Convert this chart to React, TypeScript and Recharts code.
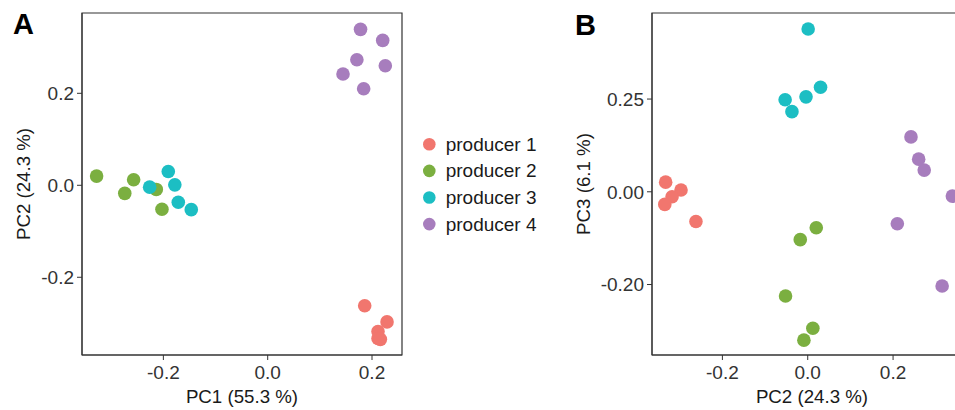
import React from 'react';
import { ScatterChart, Scatter, XAxis, YAxis, ReferenceArea, Label } from 'recharts';

// groups and colours
const groups = ['producer 1', 'producer 2', 'producer 3', 'producer 4'];
const colors = ['#F1766E', '#7BAF40', '#1CBEC3', '#A77DBD'];

// principal component scores per sample, one array per producer
const pc1 = [
  [0.186, 0.2288, 0.2115, 0.2115, 0.216],
  [-0.328, -0.257, -0.274, -0.2136, -0.2027],
  [-0.2263, -0.1906, -0.178, -0.1714, -0.1465],
  [0.178, 0.2205, 0.171, 0.2255, 0.1444, 0.184],
];
const pc2 = [
  [-0.262, -0.297, -0.318, -0.333, -0.335],
  [0.02, 0.012, -0.0175, -0.009, -0.052],
  [-0.004, 0.03, 0.001, -0.037, -0.053],
  [0.339, 0.315, 0.273, 0.26, 0.242, 0.21],
];
const pc3 = [
  [-0.08, 0.005, -0.0135, 0.026, -0.034],
  [-0.097, -0.368, -0.129, -0.4, -0.281],
  [0.256, 0.282, 0.439, 0.216, 0.248],
  [-0.0116, -0.254, 0.0585, 0.088, 0.148, -0.0863],
];

// axes
const ticksA = [-0.2, 0, 0.2];
const ticksBx = [-0.2, 0, 0.2];
const ticksBy = [-0.25, 0, 0.25];
const tickLabelsBy = ['-0.20', '0.00', '0.25'];

const FONT = '"Liberation Sans", Arial, Helvetica, sans-serif';
const TICK = '#333333';
const TITLE = '#1a1a1a';
const BOX = '#333333';

const series = groups.map((g, gi) =>
  pc1[gi].map((v, i) => ({ pc1: v, pc2: pc2[gi][i], pc3: pc3[gi][i] }))
);

const dot = (color: string) => (p: any) => <circle cx={p.cx} cy={p.cy} r={6.8} fill={color} />;

const xTitle = (text: string) => ({ viewBox }: any) => {
  const cx = viewBox.x + viewBox.width / 2;
  const y = viewBox.y + viewBox.height - 7;
  return (
    <text x={cx} y={y} textAnchor="middle" fontSize={18.7} fontFamily={FONT} fill={TITLE}>
      {text}
    </text>
  );
};

const yTitle = (text: string, baseX: number) => ({ viewBox }: any) => {
  const cy = viewBox.y + viewBox.height / 2;
  return (
    <text x={baseX} y={cy} transform={`rotate(-90 ${baseX} ${cy})`} textAnchor="middle" fontSize={18.7} fontFamily={FONT} fill={TITLE}>
      {text}
    </text>
  );
};

interface PanelProps {
  xKey: string;
  yKey: string;
  xDomain: [number, number];
  yDomain: [number, number];
  xTicks: number[];
  yTicks: number[];
  xFmt: (v: number) => string;
  yFmt: (v: number) => string;
  xLabel: string;
  yLabel: string;
  yLabelX: number;
}

const Panel: React.FC<PanelProps> = (p) => (
  <ScatterChart width={420} height={410} margin={{ top: 13, right: 18, bottom: 0, left: 0 }}>
    <XAxis
      type="number"
      dataKey={p.xKey}
      domain={p.xDomain}
      ticks={p.xTicks}
      interval={0}
      allowDataOverflow
      tickFormatter={p.xFmt}
      height={55}
      stroke={BOX}
      tickSize={5}
      tickMargin={6}
      tick={{ fill: TICK, fontSize: 19, fontFamily: FONT }}
    >
      <Label content={xTitle(p.xLabel)} />
    </XAxis>
    <YAxis
      type="number"
      dataKey={p.yKey}
      domain={p.yDomain}
      ticks={p.yTicks}
      interval={0}
      allowDataOverflow
      tickFormatter={p.yFmt}
      width={82}
      stroke={BOX}
      tickSize={5}
      tickMargin={3}
      tick={{ fill: TICK, fontSize: 19, fontFamily: FONT }}
    >
      <Label content={yTitle(p.yLabel, p.yLabelX)} />
    </YAxis>
    <ReferenceArea
      x1={p.xDomain[0]}
      x2={p.xDomain[1]}
      y1={p.yDomain[0]}
      y2={p.yDomain[1]}
      fill="none"
      stroke={BOX}
      strokeWidth={1.2}
      ifOverflow="visible"
    />
    {series.map((d, gi) => (
      <Scatter key={groups[gi]} name={groups[gi]} data={d} shape={dot(colors[gi])} isAnimationActive={false} />
    ))}
  </ScatterChart>
);

export default function App() {
  return (
    <div style={{ position: 'absolute', left: 0, top: 0, width: 955, height: 410, overflow: 'hidden', background: '#fff' }}>
      <div style={{ position: 'absolute', left: 0, top: 0 }}>
        <Panel
          xKey="pc1"
          yKey="pc2"
          xDomain={[-0.356, 0.2575]}
          yDomain={[-0.369, 0.3746]}
          xTicks={ticksA}
          yTicks={ticksA}
          xFmt={(v) => v.toFixed(1)}
          yFmt={(v) => v.toFixed(1)}
          xLabel="PC1 (55.3 %)"
          yLabel="PC2 (24.3 %)"
          yLabelX={30}
        />
      </div>
      <div style={{ position: 'absolute', left: 570, top: 0 }}>
        <Panel
          xKey="pc2"
          yKey="pc3"
          xDomain={[-0.365, 0.385]}
          yDomain={[-0.44, 0.482]}
          xTicks={ticksBx}
          yTicks={ticksBy}
          xFmt={(v) => v.toFixed(1)}
          yFmt={(v) => tickLabelsBy[ticksBy.indexOf(v)] ?? v.toFixed(2)}
          xLabel="PC2 (24.3 %)"
          yLabel="PC3 (6.1 %)"
          yLabelX={20}
        />
      </div>
      <svg width={955} height={410} style={{ position: 'absolute', left: 0, top: 0, pointerEvents: 'none' }}>
        <text x={13} y={34} fontSize={29} fontWeight="bold" fontFamily={FONT} fill="#000">A</text>
        <text x={575} y={35} fontSize={29} fontWeight="bold" fontFamily={FONT} fill="#000">B</text>
        {groups.map((g, i) => (
          <g key={g}>
            <circle cx={429.3} cy={144.3 + i * 26.6} r={6.3} fill={colors[i]} />
            <text x={445.7} y={144.3 + i * 26.6} dominantBaseline="central" fontSize={19} fontFamily={FONT} fill={TITLE}>
              {g}
            </text>
          </g>
        ))}
      </svg>
    </div>
  );
}
